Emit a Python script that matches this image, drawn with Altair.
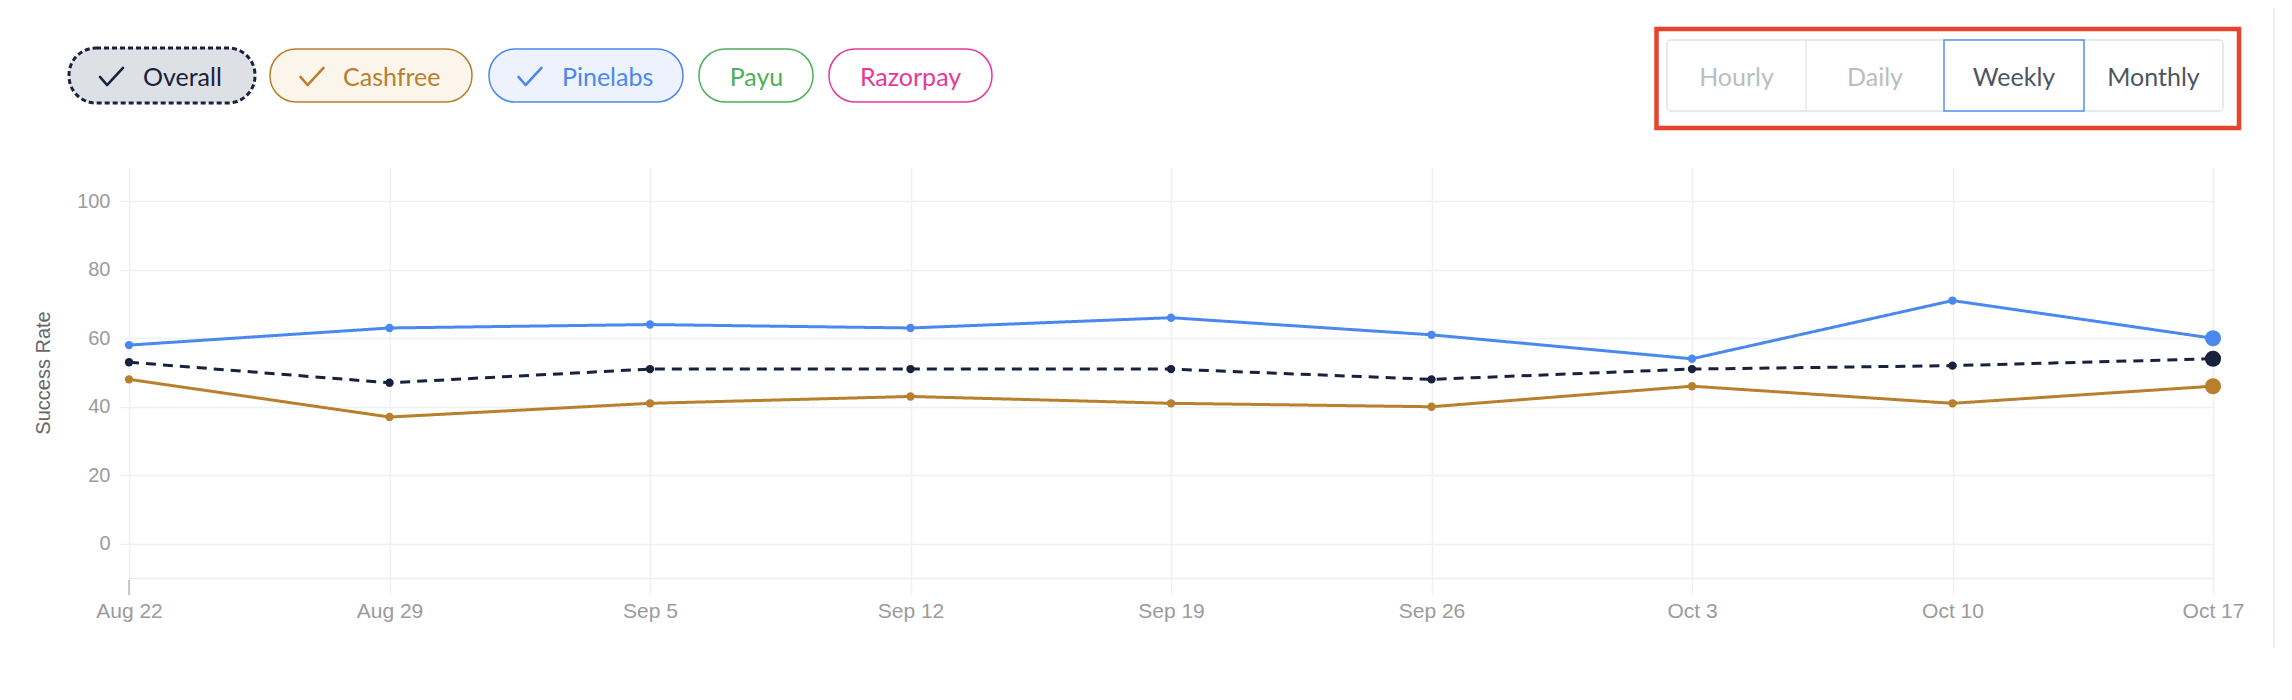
import altair as alt
import pandas as pd

# ---------------- data ----------------
dates = ["Aug 22", "Aug 29", "Sep 5", "Sep 12", "Sep 19", "Sep 26", "Oct 3", "Oct 10", "Oct 17"]
overall = [53, 47, 51, 51, 51, 48, 51, 52, 54]
cashfree = [48, 37, 41, 43, 41, 40, 46, 41, 46]
pinelabs = [58, 63, 64, 63, 66, 61, 54, 71, 60]
series_names = ["Overall", "Cashfree", "Pinelabs", "Payu", "Razorpay"]
buttons = ["Hourly", "Daily", "Weekly", "Monthly"]
y_ticks = [0, 20, 40, 60, 80, 100]

rows = []
for name, vals in (("Pinelabs", pinelabs), ("Cashfree", cashfree), ("Overall", overall)):
    for d, v in zip(dates, vals):
        rows.append({"date": d, "series": name, "value": v})
df = pd.DataFrame(rows)

# ---------------- layout constants ----------------
W, H = 2084, 411
PL, PT = 121, 159          # plot origin in svg coords
OX, OY = 8 + PL, 8 + PT    # plot origin in page coords

def px(x):
    return x - OX

def py(y):
    return y - OY

NAVY = "#18223d"
GOLD = "#b87f2c"
BLUE = "#4b88ee"
GREEN = "#4caf5a"
PINK = "#e8379b"
GRID = "#eef0f4"
CHECK_PATH = "M -1 0.04 L -0.39 0.74 L 1 -0.74"

color_scale = alt.Scale(domain=["Overall", "Cashfree", "Pinelabs"], range=[NAVY, GOLD, BLUE])
dash_scale = alt.Scale(domain=["Overall", "Cashfree", "Pinelabs"], range=[[10, 7], [1, 0], [1, 0]])

x_enc = alt.X(
    "date:O",
    sort=dates,
    scale=alt.Scale(type="point", padding=0),
    axis=alt.Axis(
        title=None, labelAngle=0, labelFont="Liberation Sans", labelFontSize=21,
        labelColor="#9b9b9b", labelPadding=5, tickSize=17, tickColor=GRID, tickWidth=1.5,
        grid=True, gridColor=GRID, gridWidth=1.5, domainColor="#eaecf0", domainWidth=1.5,
    ),
)
y_enc = alt.Y(
    "value:Q",
    scale=alt.Scale(domain=[-10, 110], nice=False, zero=False),
    axis=alt.Axis(
        values=y_ticks, title="Success Rate", titleFont="Liberation Sans", titleFontSize=20,
        titleFontWeight="normal", titleColor="#666666", titleX=-86, titleY=H / 2,
        titleBaseline="middle", titleAlign="center",
        labelFont="Liberation Sans", labelFontSize=20, labelColor="#9b9b9b",
        labelPadding=9, tickSize=10, tickColor=GRID, tickWidth=1.5, domain=False,
        grid=True, gridColor=GRID, gridWidth=1.5,
    ),
)

base = alt.Chart(df)
lines = base.mark_line(strokeWidth=3).encode(
    x=x_enc, y=y_enc,
    color=alt.Color("series:N", scale=color_scale, legend=None),
    strokeDash=alt.StrokeDash("series:N", scale=dash_scale, legend=None),
    detail="series:N",
)
points = base.mark_circle(size=70, opacity=1).encode(
    x=alt.X("date:O", sort=dates), y="value:Q",
    color=alt.Color("series:N", scale=color_scale, legend=None),
)
last_points = base.transform_filter(alt.datum.date == dates[-1]).mark_circle(size=260, opacity=1).encode(
    x=alt.X("date:O", sort=dates), y="value:Q",
    color=alt.Color("series:N", scale=color_scale, legend=None),
)
first_tick = alt.Chart(pd.DataFrame({"date": [dates[0]]})).mark_rule(color="#b9b9b9", strokeWidth=1.5).encode(
    x=alt.X("date:O", sort=dates), y=alt.value(H + 2), y2=alt.value(H + 17)
)

one = lambda: alt.Data(values=[{"k": 1}])

def rect(x1, x2, y1, y2, **kw):
    return alt.Chart(one()).mark_rect(**kw).encode(
        x=alt.value(px(x1)), x2=alt.value(px(x2)), y=alt.value(py(y1)), y2=alt.value(py(y2))
    )

def text(label, x, y, align="left", font="Lato", size=25, color="#000"):
    return alt.Chart(pd.DataFrame({"t": [label]})).mark_text(
        align=align, baseline="alphabetic", font=font, fontSize=size, color=color
    ).encode(x=alt.value(px(x)), y=alt.value(py(y)), text="t:N")

def check(cx, cy, color):
    return alt.Chart(one()).mark_point(
        shape=CHECK_PATH, filled=False, size=530, stroke=color, strokeWidth=2.6,
        strokeCap="round", strokeJoin="round", opacity=1,
    ).encode(x=alt.value(px(cx)), y=alt.value(py(cy)))

deco = []
# card border
deco.append(rect(-20, 2274, -20, 720, fillOpacity=0, stroke="#e6e8eb", strokeWidth=1.5, cornerRadius=8))

# legend chips: (x1, x2, y1, y2, fill, stroke, color, check_center_x, text_x, align)
chips = [
    (69, 255, 48, 103, "#dde0e5", NAVY, NAVY, 111.5, 143, "left"),
    (270, 472, 49, 102, "#fbf5ec", GOLD, GOLD, 312, 343, "left"),
    (489, 683, 49, 102, "#edf2fd", BLUE, BLUE, 530, 562, "left"),
    (699, 813, 49, 102, "#ffffff", GREEN, GREEN, None, 756.5, "center"),
    (829, 992, 49, 102, "#ffffff", PINK, PINK, None, 910.5, "center"),
]
for name, (x1, x2, y1, y2, fill, stroke, col, cx, tx, al) in zip(series_names, chips):
    if name == "Overall":
        deco.append(rect(x1, x2, y1, y2, fill=fill, stroke=stroke, strokeWidth=3,
                         strokeDash=[5, 3], cornerRadius=27))
    else:
        deco.append(rect(x1, x2, y1, y2, fill=fill, stroke=stroke, strokeWidth=1.5, cornerRadius=26))
    if cx is not None:
        deco.append(check(cx, 76.5, col))
    deco.append(text(name, tx, 86, align=al, color=col))

# time-granularity buttons
deco.append(rect(1656.5, 2239, 29, 128, fillOpacity=0, stroke="#e8432d", strokeWidth=4.5))
deco.append(rect(1667, 2223, 40, 111, fill="#ffffff", stroke="#dde3e8", strokeWidth=1.5, cornerRadius=4))
deco.append(rect(1806, 1806.01, 40, 111, fill="#e6eaee", stroke="#e6eaee", strokeWidth=1))
deco.append(rect(1944, 2084, 40, 111, fill="#ffffff", stroke="#5b8def", strokeWidth=1.5))
btn_centers = [1736.5, 1875, 2014, 2153.5]
btn_colors = ["#b9bec3", "#b9bec3", "#4d5660", "#4d5660"]
for b, cxb, colb in zip(buttons, btn_centers, btn_colors):
    deco.append(text(b, cxb, 86, align="center", color=colb))

chart = alt.layer(lines, points, last_points, first_tick, *deco).properties(
    width=W, height=H,
    padding={"left": PL, "top": PT, "right": 62, "bottom": 70},
    autosize=alt.AutoSizeParams(type="none"),
    background="#ffffff",
).configure_view(stroke=None)

chart.save("out.html", embed_options={"renderer": "svg", "actions": False})
